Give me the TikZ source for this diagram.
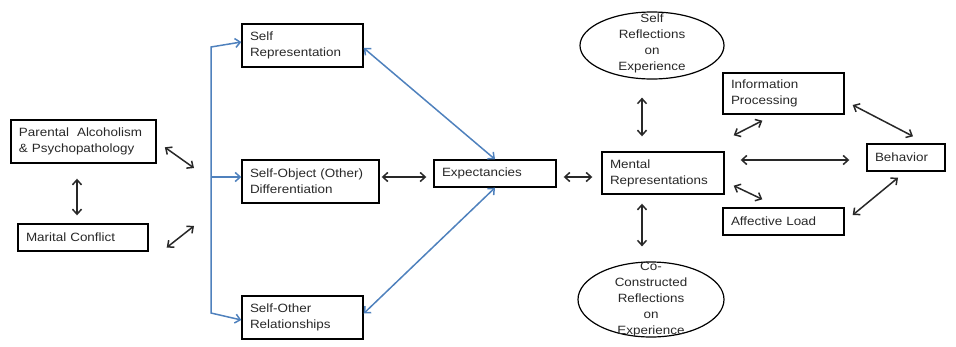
\documentclass[tikz,border=0pt]{standalone}
\usepackage{fontspec}
\setmainfont{Liberation Sans}[FakeStretch=1.12]
\usetikzlibrary{arrows.meta,shapes.geometric}
\tikzset{>={Straight Barb[length=5pt,width=9pt]}}
\definecolor{linkblue}{RGB}{79,129,189}
\definecolor{ink}{RGB}{40,40,40}

\begin{document}
\begin{tikzpicture}[x=1pt,y=-1pt,
	font=\fontsize{12}{16}\selectfont,
	box/.style={draw=black,line width=1.4pt,text=ink,align=left,inner xsep=8pt,inner ysep=2pt},
	oval/.style={draw=black,ellipse,line width=1.2pt,inner sep=0pt},
	link/.style={<->,draw=ink,line width=1.5pt},
	bluelink/.style={<->,draw=linkblue,line width=1.5pt}]
	\useasboundingbox (0,0) rectangle (956,346);

	\node[box,text width=129pt,minimum height=43pt] (parent) at (83.5,141.5) {Parental~~Alcoholism\\\& Psychopathology};
	\node[box,text width=114pt,minimum height=27pt] (marital) at (83,237.5) {Marital Conflict};

	\node[box,text width=105pt,minimum height=43pt] (selfrep) at (302.5,45.5) {Self\\Representation};
	\node[box,text width=121pt,minimum height=43pt] (selfobj) at (310.5,181.5) {Self-Object (Other)\\Differentiation};
	\node[box,text width=105pt,minimum height=43pt] (selfother) at (302.5,317.5) {Self-Other\\Relationships};

	\node[box,text width=106pt,minimum height=27pt] (expect) at (495,173.5) {Expectancies};
	\node[box,text width=106pt,minimum height=42pt] (mental) at (663,173) {Mental\\Representations};

	\node[oval,minimum width=144pt,minimum height=67pt] (selfrefl) at (652,45.5) {};
	\node[align=center,text=ink] (selfrefltext) at (652,43) {Self\\Reflections\\on\\Experience};
	\node[oval,minimum width=146pt,minimum height=75pt] (cocon) at (651,299.5) {};
	\node[align=center,text=ink] (cocontext) at (651,300) {Co-\\Constructed\\Reflections\\on\\Experience};

	\node[box,text width=105pt,minimum height=41pt] (info) at (783.5,93.5) {Information\\Processing};
	\node[box,text width=105pt,minimum height=27pt] (affect) at (783.5,221.5) {Affective Load};
	\node[box,text width=62pt,minimum height=27pt] (behav) at (906,157.5) {Behavior};

	\coordinate (busT) at (211,47);
	\coordinate (busM) at (211,177);
	\coordinate (busB) at (211,313);
	\coordinate (inA) at (194,168);
	\coordinate (inB) at (194,226);

	\draw[link,shorten <=15pt,shorten >=8pt] ([xshift=-6.5]parent.south) -- ([xshift=-6]marital.north);
	\draw[link,shorten <=10pt] (parent.east) -- (inA);
	\draw[link] ([shift={(18,10)}]marital.east) -- (inB);

	\draw[bluelink] ([yshift=3.5]selfrep.west) -- (busT) -- (busB) -- ([yshift=-2.5]selfother.west);
	\draw[bluelink,-{Straight Barb[length=5pt,width=9pt]}] (busM) -- (busM -| selfobj.west);
	\draw[bluelink] (expect.north) -- ([yshift=-2.5]selfrep.east);
	\draw[bluelink] (expect.south) -- ([yshift=4]selfother.east);

	\draw[link,shorten <=2pt,shorten >=7pt] ([yshift=4.5]selfobj.east) -- ([yshift=-3.5]expect.west);
	\draw[link,shorten <=7pt,shorten >=9pt] ([yshift=-3.5]expect.east) -- ([yshift=-4]mental.west);

	\draw[link,shorten <=18pt,shorten >=15pt] ([xshift=-10]selfrefl.south) -- ([xshift=-21]mental.north);
	\draw[link,shorten <=9pt,shorten >=15pt] ([xshift=-21]mental.south) -- ([xshift=-9]cocon.north);

	\draw[link] ([shift={(9,-16)}]mental.north east) -- ([shift={(40,6)}]info.south west);
	\draw[link,shorten <=16pt,shorten >=17pt] ([yshift=13]mental.east) -- ([yshift=-2.5]behav.west);
	\draw[link] ([shift={(9,-9)}]mental.south east) -- ([shift={(40,-8)}]affect.north west);
	\draw[link] ([shift={(8,11.5)}]info.east) -- ([shift={(7,-7)}]behav.north);
	\draw[link] ([shift={(8,-6.5)}]affect.east) -- ([shift={(-8,6)}]behav.south);
\end{tikzpicture}
\end{document}
